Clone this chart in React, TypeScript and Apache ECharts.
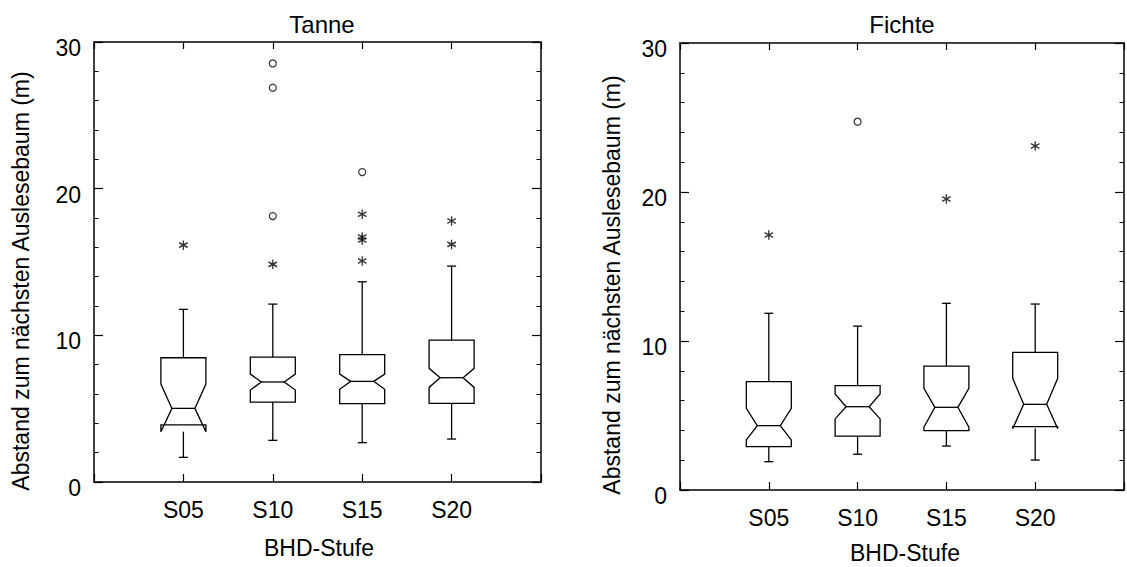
import React, { useEffect, useRef } from 'react';
import * as echarts from 'echarts';

const categories = ['S05', 'S10', 'S15', 'S20'];
const panelTitles = ['Tanne', 'Fichte'];
const yAxisTitle = 'Abstand zum nächsten Auslesebaum (m)';
const xAxisTitle = 'BHD-Stufe';

// each row: [q1, notchLow, median, notchHigh, q3, whiskerLow, whiskerHigh]
const tanneBoxes = [
  [3.89, 3.43, 5.02, 6.68, 8.47, 1.68, 11.77],
  [5.45, 6.27, 6.82, 7.36, 8.52, 2.84, 12.13],
  [5.34, 6.32, 6.86, 7.36, 8.68, 2.68, 13.65],
  [5.36, 6.45, 7.11, 7.75, 9.68, 2.93, 14.72],
];
const tanneStars = [
  [1, 16.15],
  [2, 14.84],
  [3, 18.25], [3, 16.5], [3, 16.7], [3, 15.07],
  [4, 17.79], [4, 16.2],
];
const tanneCircles = [
  [2, 28.54], [2, 26.88], [2, 18.13],
  [3, 21.13],
];

const fichteBoxes = [
  [2.91, 3.36, 4.32, 5.48, 7.27, 1.9, 11.86],
  [3.62, 4.77, 5.59, 6.44, 7.0, 2.4, 11.0],
  [3.98, 4.21, 5.55, 6.82, 8.32, 2.95, 12.53],
  [4.25, 4.12, 5.75, 7.5, 9.24, 2.01, 12.48],
];
const fichteStars = [
  [1, 17.11],
  [3, 19.53],
  [4, 23.09],
];
const fichteCircles = [[2, 24.72]];

const FONT = '"Liberation Sans", Arial, Helvetica, sans-serif';
const BLACK = '#000';
const STAR = 'path://M5,0L5,10M0.67,2.5L9.33,7.5M0.67,7.5L9.33,2.5';

const axisLine = { show: true, onZero: false, lineStyle: { color: BLACK, width: 1.5 } };

function xAxesFor(gridIndex: number) {
  return [
    {
      type: 'value', gridIndex, position: 'bottom', min: 0, max: 5, interval: 1,
      axisLine,
      axisTick: { show: true, inside: true, length: 8, lineStyle: { color: BLACK, width: 1.2 } },
      axisLabel: {
        show: true, margin: 16, color: BLACK, fontSize: 23, fontFamily: FONT,
        formatter: (v: number) => categories[Math.round(v) - 1] ?? '',
      },
      splitLine: { show: false },
    },
    {
      type: 'value', gridIndex, position: 'top', min: 0, max: 5, interval: 1,
      axisLine,
      axisTick: { show: true, inside: true, length: 7, lineStyle: { color: BLACK, width: 1.2 } },
      axisLabel: { show: false },
      splitLine: { show: false },
    },
  ];
}

function yAxesFor(gridIndex: number) {
  const common = {
    type: 'value', gridIndex, min: 0, max: 30, interval: 10,
    axisLine,
    axisTick: { show: true, inside: true, length: 9, lineStyle: { color: BLACK, width: 1.2 } },
    minorTick: { show: true, splitNumber: 5, length: 4.5, lineStyle: { color: BLACK, width: 1 } },
    splitLine: { show: false },
    minorSplitLine: { show: false },
  };
  return [
    {
      ...common, position: 'left',
      axisLabel: {
        show: true, margin: 13, color: BLACK, fontSize: 23, fontFamily: FONT,
        verticalAlign: 'top', lineHeight: 12,
      },
    },
    { ...common, position: 'right', axisLabel: { show: false } },
  ];
}

function renderBox(params: any, api: any) {
  const x = api.value(0);
  const P = (v: number) => api.coord([x, v]);
  const [cx, yQ1] = P(api.value(1));
  const yNLo = P(api.value(2))[1];
  const yMed = P(api.value(3))[1];
  const yNHi = P(api.value(4))[1];
  const yQ3 = P(api.value(5))[1];
  const yWLo = P(api.value(6))[1];
  const yWHi = P(api.value(7))[1];
  const w = 22.5;
  const wn = 11.5;
  const cap = 4.5;
  const st = { stroke: BLACK, lineWidth: 1.3, fill: 'none' };
  const line = (x1: number, y1: number, x2: number, y2: number) => ({
    type: 'line', shape: { x1, y1, x2, y2 }, style: { stroke: BLACK, lineWidth: 1.3 },
  });
  return {
    type: 'group',
    children: [
      {
        type: 'polygon',
        shape: {
          points: [
            [cx - w, yQ3], [cx + w, yQ3], [cx + w, yNHi], [cx + wn, yMed], [cx + w, yNLo],
            [cx + w, yQ1], [cx - w, yQ1], [cx - w, yNLo], [cx - wn, yMed], [cx - w, yNHi],
          ],
        },
        style: st,
      },
      line(cx - wn, yMed, cx + wn, yMed),
      line(cx, yQ3, cx, yWHi),
      line(cx - cap, yWHi, cx + cap, yWHi),
      line(cx, Math.max(yQ1, yNLo), cx, yWLo),
      line(cx - cap, yWLo, cx + cap, yWLo),
    ],
  };
}

function seriesFor(panel: number, boxes: number[][], stars: number[][], circles: number[][]) {
  const axisIdx = { xAxisIndex: panel * 2, yAxisIndex: panel * 2 };
  return [
    {
      type: 'custom', ...axisIdx,
      renderItem: renderBox,
      encode: { x: 0, y: [1, 2, 3, 4, 5, 6, 7] },
      data: boxes.map((b, i) => [i + 1, ...b]),
      silent: true,
    },
    {
      type: 'scatter', ...axisIdx,
      symbol: STAR, symbolSize: [8.5, 9.5],
      itemStyle: { color: 'none', borderColor: BLACK, borderWidth: 1.4 },
      data: stars,
      silent: true,
    },
    {
      type: 'scatter', ...axisIdx,
      symbol: 'circle', symbolSize: 7,
      itemStyle: { color: '#fff', borderColor: BLACK, borderWidth: 1.2 },
      data: circles,
      silent: true,
    },
  ];
}

function text(str: string, x: number, y: number, size: number, rotation = 0) {
  return {
    type: 'text', x, y, rotation, silent: true,
    style: {
      text: str, fill: BLACK, font: `${size}px ${FONT}`,
      align: 'center', verticalAlign: 'middle',
      textAlign: 'center', textVerticalAlign: 'middle',
    },
  };
}

export default function App() {
  const ref = useRef<HTMLDivElement>(null);
  useEffect(() => {
    document.body.style.margin = '0';
    document.body.style.overflow = 'hidden';
    const chart = echarts.init(ref.current!, null, { renderer: 'svg' });
    chart.setOption({
      animation: false,
      backgroundColor: '#fff',
      grid: [
        { left: 94, right: 586, top: 42, bottom: 85 },
        { left: 680, right: -1, top: 43, bottom: 77 },
      ],
      xAxis: [...xAxesFor(0), ...xAxesFor(1)],
      yAxis: [...yAxesFor(0), ...yAxesFor(1)],
      series: [
        ...seriesFor(0, tanneBoxes, tanneStars, tanneCircles),
        ...seriesFor(1, fichteBoxes, fichteStars, fichteCircles),
      ],
      graphic: [
        text(panelTitles[0], 322, 24, 24),
        text(panelTitles[1], 902, 24, 24),
        text(yAxisTitle, 21, 281, 23, Math.PI / 2),
        text(yAxisTitle, 612, 285, 23, Math.PI / 2),
        text(xAxisTitle, 319, 548, 23),
        text(xAxisTitle, 905, 553, 23),
      ],
    });
    return () => chart.dispose();
  }, []);
  return <div ref={ref} style={{ width: 1127, height: 567 }} />;
}
